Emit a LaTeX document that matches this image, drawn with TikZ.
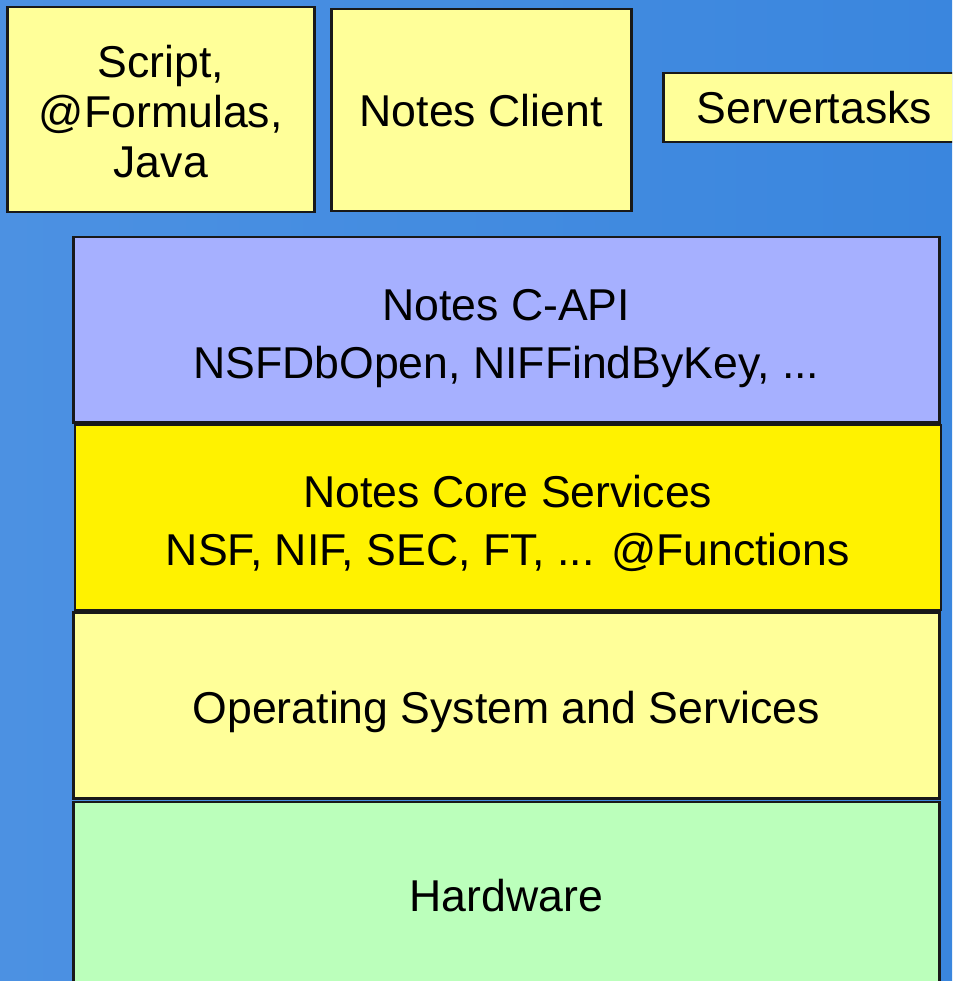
\documentclass[tikz,border=0pt]{standalone}
\usepackage{fontspec}
\setmainfont{Liberation Sans}
\usetikzlibrary{positioning}

\definecolor{bgleft}{RGB}{76,145,226}
\definecolor{bgright}{RGB}{58,134,222}
\definecolor{paleyellow}{RGB}{255,255,153}
\definecolor{lavender}{RGB}{166,176,255}
\definecolor{mintgreen}{RGB}{187,255,187}

\begin{document}
\begin{tikzpicture}[x=1pt,y=-1pt,node distance=0pt]
  \tikzstyle{box}=[draw=black!90,line width=2.5pt,align=center,inner sep=0pt,
                   font=\fontsize{44.6}{50}\selectfont,text height=32.5pt,text depth=0pt]
  \tikzstyle{layer}=[box,minimum width=866pt,minimum height=185pt,
                     font=\fontsize{44.6}{58}\selectfont]

  \useasboundingbox (0,0) rectangle (952,981);
  \clip (0,0) rectangle (952,981);
  \shade[left color=bgleft,right color=bgright] (0,0) rectangle (952,981);

  % top row
  \node[box,fill=paleyellow,minimum width=307pt,minimum height=205pt,
        anchor=north west,text height=136.5pt] (script) at (6,6) {Script,\\@Formulas,\\Java};
  \node[box,fill=paleyellow,minimum width=300pt,minimum height=202pt,
        anchor=north west] (client) at (330,8) {Notes Client};
  \node[box,fill=paleyellow,minimum width=302pt,minimum height=69pt,
        anchor=north west] (tasks) at (662,72) {Servertasks};

  % layers
  \node[layer,fill=lavender,anchor=north west,text height=97pt] (capi) at (72,236)
        {Notes C-API\\NSFDbOpen, NIFFindByKey, ...};
  \node[layer,fill=yellow,below=of capi,xshift=1.5pt,text height=96pt] (core)
        {Notes Core Services\\NSF, NIF, SEC, FT, ... @Functions};
  \node[layer,fill=paleyellow,below=of core,xshift=-1.5pt,minimum height=186pt,
        text height=36pt] (os) {Operating System and Services};
  \node[layer,fill=mintgreen,below=1pt of os,minimum height=183pt,
        text height=36pt] (hw) {Hardware};

\end{tikzpicture}
\end{document}
